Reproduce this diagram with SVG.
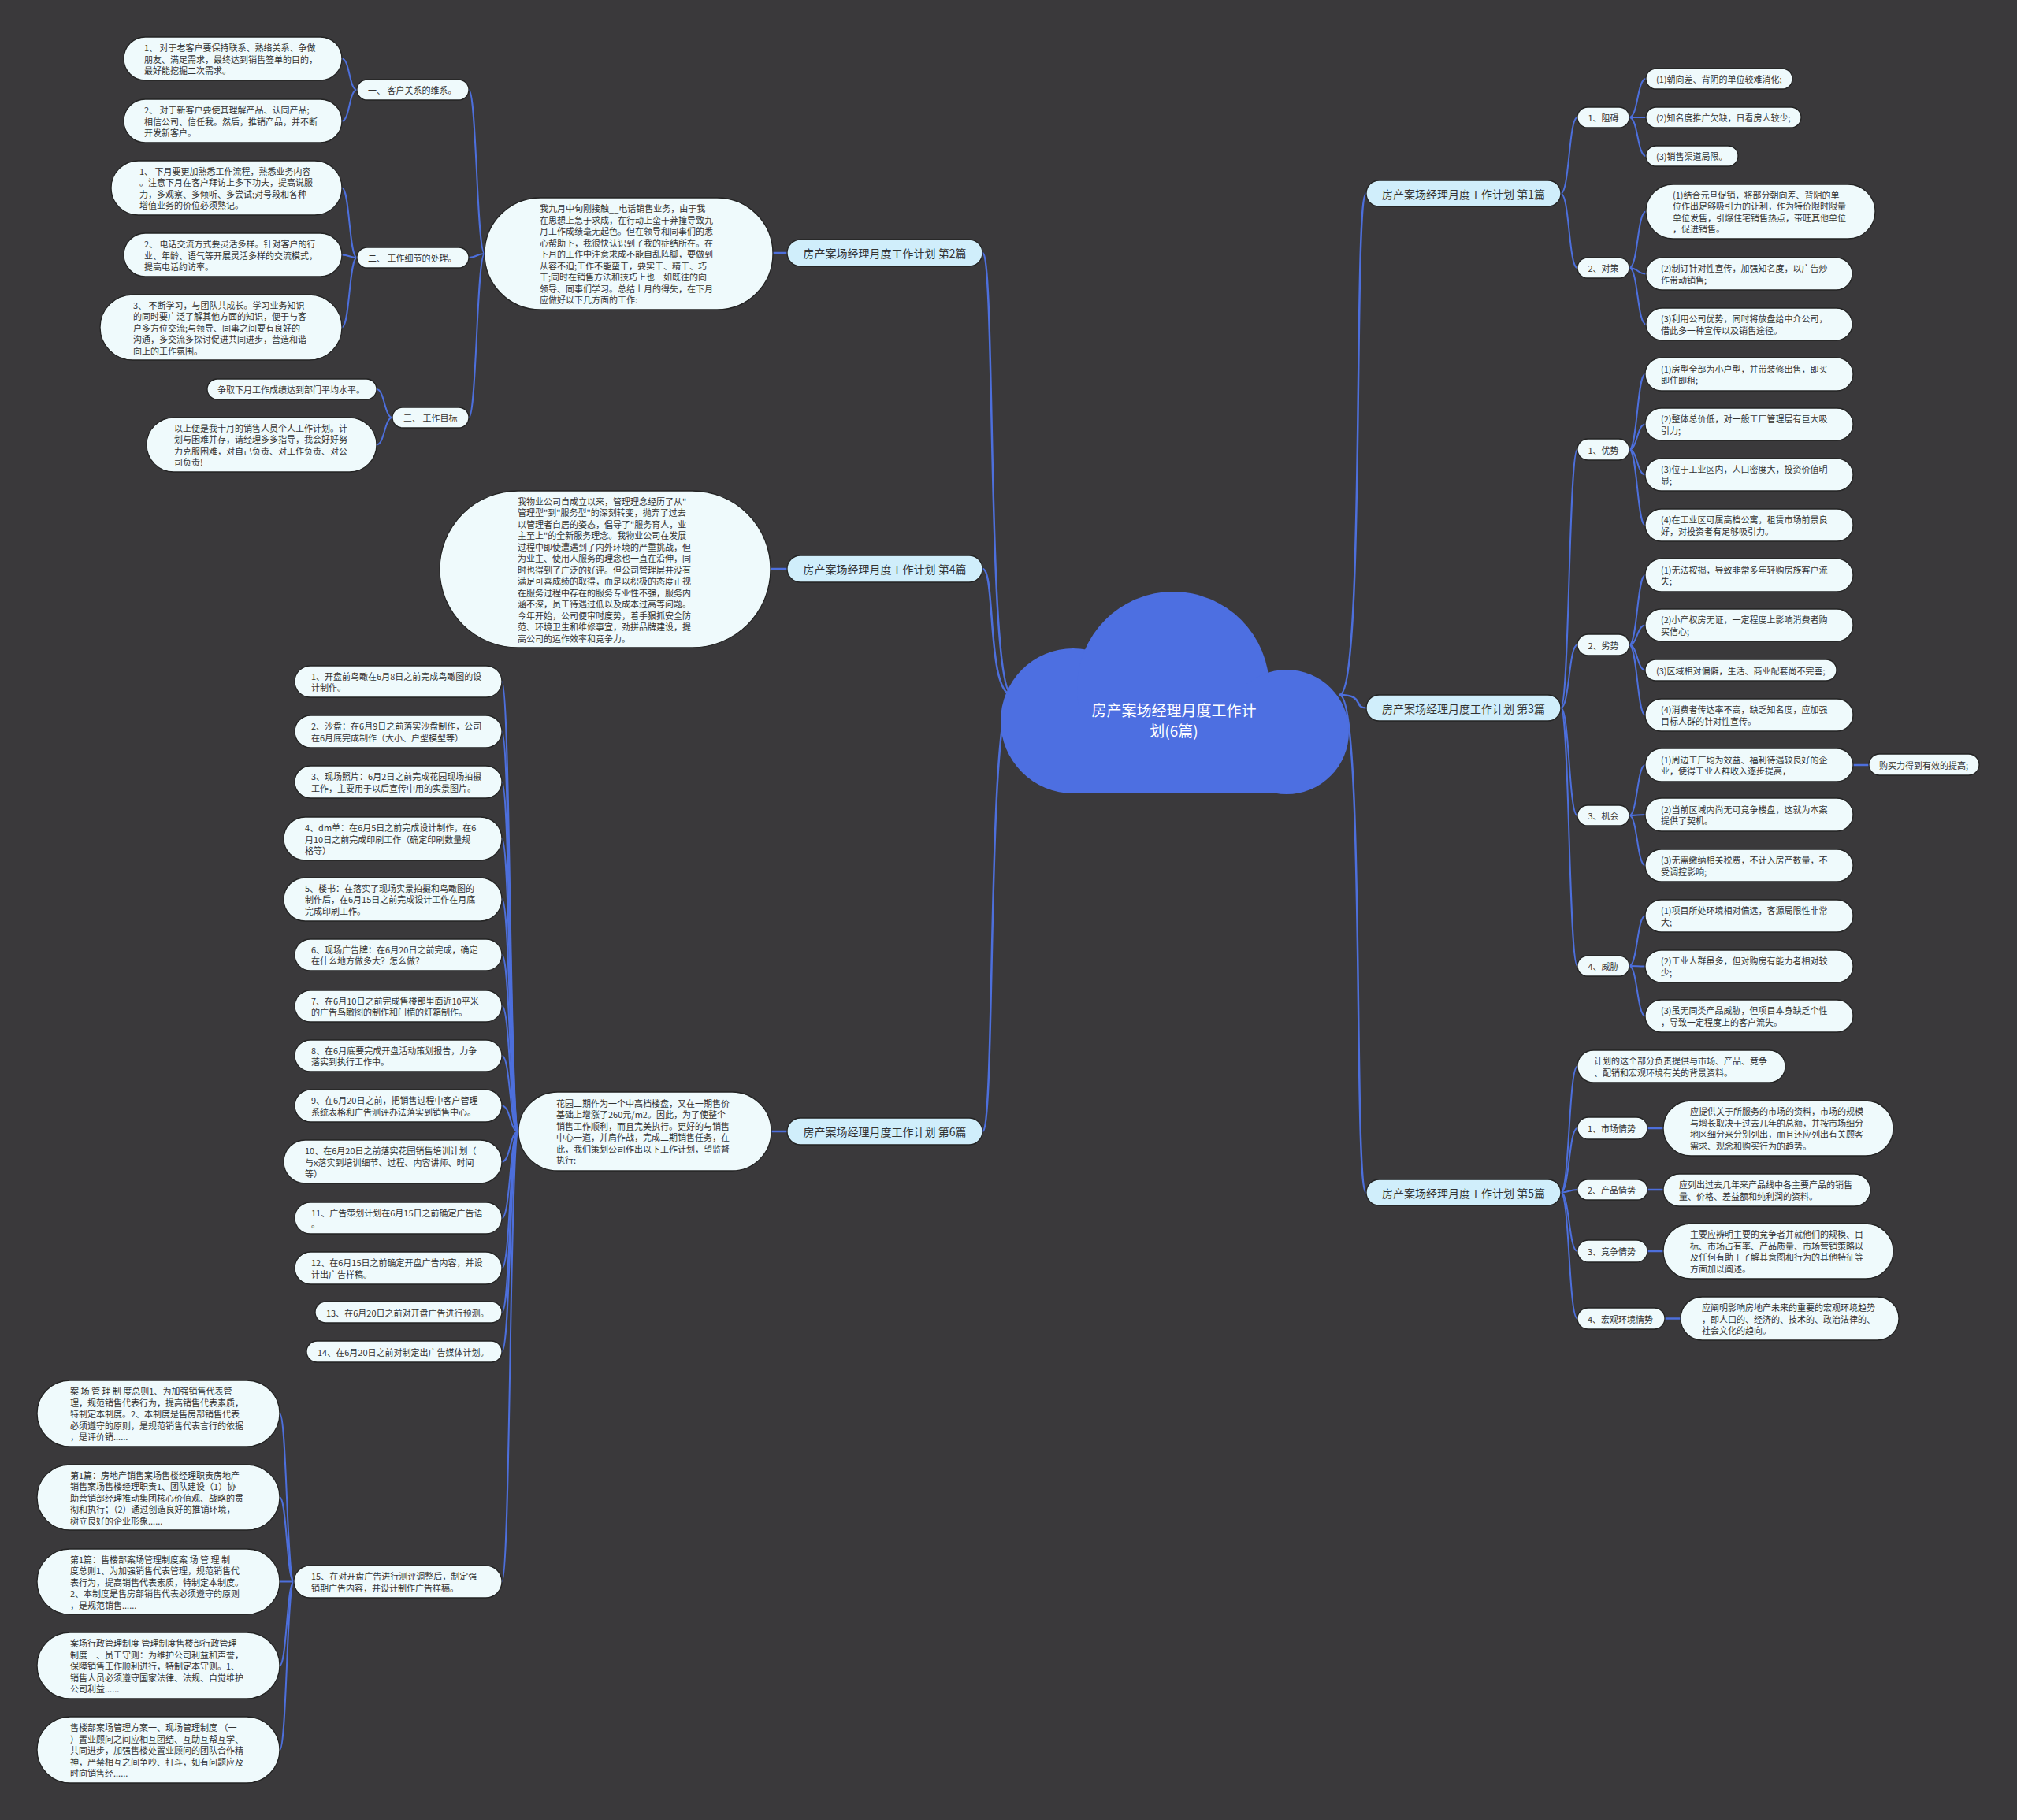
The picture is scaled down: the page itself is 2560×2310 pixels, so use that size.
<svg xmlns="http://www.w3.org/2000/svg" width="2560" height="2310" viewBox="0 0 2560 2310">
<style>
text{font-family:"Noto Sans CJK SC","Noto Sans",sans-serif;font-size:11px;fill:#333;dominant-baseline:central}
.bt{font-size:14px;text-anchor:middle}
.ct{font-size:19px;fill:#fff;text-anchor:middle}
.mid{text-anchor:middle}
.lf{fill:#effafc;stroke:#232323;stroke-width:1.3}
.br{fill:#d0eefb;stroke:#232323;stroke-width:1.3}
.ln{fill:none;stroke:#4d6fdc;stroke-width:2}
.lm{fill:none;stroke:#4d6fdc;stroke-width:2.5}
</style>
<rect x="0" y="0" width="2560" height="2310" fill="#3a393b"/>
<g id="connectors">
<path class="lm" d="M1285,882 C1252,882 1264,321 1247,321"/>
<path class="lm" d="M1285,882 C1252,882 1264,722 1247,722"/>
<path class="lm" d="M1285,882 C1252,882 1264,1436 1247,1436"/>
<path class="lm" d="M1700,882 C1733,882 1717,245.5 1734,245.5"/>
<path class="lm" d="M1700,882 C1733,882 1717,898.5 1734,898.5"/>
<path class="lm" d="M1700,882 C1733,882 1717,1513.5 1734,1513.5"/>
<path class="lm" d="M999,321 L981,321"/>
<path class="lm" d="M999,722 L978,722"/>
<path class="lm" d="M999,1436 L979,1436"/>
<path class="ln" d="M615,322 C605,322 605,114 595,114"/>
<path class="ln" d="M615,322 C605,322 605,327 595,327"/>
<path class="ln" d="M615,322 C605,322 605,530 595,530"/>
<path class="ln" d="M453,114 C443,114 444,74.5 434,74.5"/>
<path class="ln" d="M453,114 C443,114 444,153.5 434,153.5"/>
<path class="ln" d="M453,327 C443,327 444,238.5 434,238.5"/>
<path class="ln" d="M453,327 C443,327 444,323.5 434,323.5"/>
<path class="ln" d="M453,327 C443,327 444,415.5 434,415.5"/>
<path class="ln" d="M498,530 C488,530 488,494 478,494"/>
<path class="ln" d="M498,530 C488,530 488,564.5 478,564.5"/>
<path class="ln" d="M658,1436 C647,1436 648,865 637,865"/>
<path class="ln" d="M658,1436 C647,1436 648,928.5 637,928.5"/>
<path class="ln" d="M658,1436 C647,1436 648,992.5 637,992.5"/>
<path class="ln" d="M658,1436 C647,1436 648,1064.5 637,1064.5"/>
<path class="ln" d="M658,1436 C647,1436 648,1141 637,1141"/>
<path class="ln" d="M658,1436 C647,1436 648,1212 637,1212"/>
<path class="ln" d="M658,1436 C647,1436 648,1277 637,1277"/>
<path class="ln" d="M658,1436 C647,1436 648,1340 637,1340"/>
<path class="ln" d="M658,1436 C647,1436 648,1403.5 637,1403.5"/>
<path class="ln" d="M658,1436 C647,1436 648,1474.5 637,1474.5"/>
<path class="ln" d="M658,1436 C647,1436 648,1546 637,1546"/>
<path class="ln" d="M658,1436 C647,1436 648,1609.5 637,1609.5"/>
<path class="ln" d="M658,1436 C647,1436 648,1665.5 637,1665.5"/>
<path class="ln" d="M658,1436 C647,1436 648,1715.5 637,1715.5"/>
<path class="ln" d="M658,1436 C647,1436 648,2007.5 637,2007.5"/>
<path class="ln" d="M373,2007.5 C364,2007.5 364,1794 355,1794"/>
<path class="ln" d="M373,2007.5 C364,2007.5 364,1900.5 355,1900.5"/>
<path class="ln" d="M373,2007.5 C364,2007.5 364,2007.5 355,2007.5"/>
<path class="ln" d="M373,2007.5 C364,2007.5 364,2114 355,2114"/>
<path class="ln" d="M373,2007.5 C364,2007.5 364,2221 355,2221"/>
<path class="ln" d="M1981,245.5 C1992,245.5 1991,149 2002,149"/>
<path class="ln" d="M1981,245.5 C1992,245.5 1991,340 2002,340"/>
<path class="ln" d="M2068,149 C2079,149 2078,100 2089,100"/>
<path class="ln" d="M2068,149 C2079,149 2078,149 2089,149"/>
<path class="ln" d="M2068,149 C2079,149 2078,198 2089,198"/>
<path class="ln" d="M2068,340 C2079,340 2078,268.5 2089,268.5"/>
<path class="ln" d="M2068,340 C2079,340 2078,347.5 2089,347.5"/>
<path class="ln" d="M2068,340 C2079,340 2078,411.5 2089,411.5"/>
<path class="ln" d="M1981,898.5 C1992,898.5 1991,570.5 2002,570.5"/>
<path class="ln" d="M1981,898.5 C1992,898.5 1991,818.5 2002,818.5"/>
<path class="ln" d="M1981,898.5 C1992,898.5 1991,1035 2002,1035"/>
<path class="ln" d="M1981,898.5 C1992,898.5 1991,1226 2002,1226"/>
<path class="ln" d="M2068,570.5 C2078,570.5 2078,475 2088,475"/>
<path class="ln" d="M2068,570.5 C2078,570.5 2078,538.5 2088,538.5"/>
<path class="ln" d="M2068,570.5 C2078,570.5 2078,602.5 2088,602.5"/>
<path class="ln" d="M2068,570.5 C2078,570.5 2078,666.5 2088,666.5"/>
<path class="ln" d="M2068,818.5 C2078,818.5 2078,730 2088,730"/>
<path class="ln" d="M2068,818.5 C2078,818.5 2078,793.5 2088,793.5"/>
<path class="ln" d="M2068,818.5 C2078,818.5 2078,850.5 2088,850.5"/>
<path class="ln" d="M2068,818.5 C2078,818.5 2078,907.5 2088,907.5"/>
<path class="ln" d="M2068,1035 C2078,1035 2078,971 2088,971"/>
<path class="ln" d="M2068,1035 C2078,1035 2078,1034 2088,1034"/>
<path class="ln" d="M2068,1035 C2078,1035 2078,1098.5 2088,1098.5"/>
<path class="lm" d="M2352,971 L2372,971"/>
<path class="ln" d="M2068,1226 C2078,1226 2078,1162.5 2088,1162.5"/>
<path class="ln" d="M2068,1226 C2078,1226 2078,1226.5 2088,1226.5"/>
<path class="ln" d="M2068,1226 C2078,1226 2078,1289.5 2088,1289.5"/>
<path class="ln" d="M1981,1513.5 C1992,1513.5 1991,1353.5 2002,1353.5"/>
<path class="ln" d="M1981,1513.5 C1992,1513.5 1991,1432 2002,1432"/>
<path class="ln" d="M1981,1513.5 C1992,1513.5 1991,1510 2002,1510"/>
<path class="ln" d="M1981,1513.5 C1992,1513.5 1991,1588 2002,1588"/>
<path class="ln" d="M1981,1513.5 C1992,1513.5 1991,1673.5 2002,1673.5"/>
<path class="lm" d="M2091,1432 L2111,1432"/>
<path class="lm" d="M2091,1510 L2111,1510"/>
<path class="lm" d="M2091,1588 L2111,1588"/>
<path class="lm" d="M2113,1673.5 L2133,1673.5"/>
</g>

<g id="center">
<circle cx="1362" cy="915" r="92" fill="#4d6fe1"/>
<circle cx="1489" cy="873" r="122" fill="#4d6fe1"/>
<circle cx="1633" cy="929" r="79" fill="#4d6fe1"/>
<rect x="1362" y="900" width="271" height="107" fill="#4d6fe1"/>
<text class="ct"><tspan x="1490" y="900">房产案场经理月度工作计</tspan><tspan x="1490" y="926">划(6篇)</tspan></text>
</g>

<g id="b2"><rect class="br" x="999" y="304" width="248" height="34" rx="17"/><text class="bt" x="1123" y="321">房产案场经理月度工作计划 第2篇</text></g>
<g id="b4"><rect class="br" x="999" y="705" width="248" height="34" rx="17"/><text class="bt" x="1123" y="722">房产案场经理月度工作计划 第4篇</text></g>
<g id="b6"><rect class="br" x="999" y="1419" width="248" height="34" rx="17"/><text class="bt" x="1123" y="1436">房产案场经理月度工作计划 第6篇</text></g>
<g id="b1"><rect class="br" x="1734" y="229" width="247" height="33" rx="16.5"/><text class="bt" x="1857.5" y="245.5">房产案场经理月度工作计划 第1篇</text></g>
<g id="b3"><rect class="br" x="1734" y="882" width="247" height="33" rx="16.5"/><text class="bt" x="1857.5" y="898.5">房产案场经理月度工作计划 第3篇</text></g>
<g id="b5"><rect class="br" x="1734" y="1497" width="247" height="33" rx="16.5"/><text class="bt" x="1857.5" y="1513.5">房产案场经理月度工作计划 第5篇</text></g>

<g id="p2"><rect class="lf" x="615" y="251" width="366" height="142" rx="71"/><text>
<tspan x="685" y="264">我九月中旬刚接触__电话销售业务，由于我</tspan>
<tspan x="685" y="278.5">在思想上急于求成，在行动上蛮干莽撞导致九</tspan>
<tspan x="685" y="293">月工作成绩毫无起色。但在领导和同事们的悉</tspan>
<tspan x="685" y="307.5">心帮助下，我很快认识到了我的症结所在。在</tspan>
<tspan x="685" y="322">下月的工作中注意求成不能自乱阵脚，要做到</tspan>
<tspan x="685" y="336.5">从容不迫;工作不能蛮干，要实干、精干、巧</tspan>
<tspan x="685" y="351">干;同时在销售方法和技巧上也一如既往的向</tspan>
<tspan x="685" y="365.5">领导、同事们学习。总结上月的得失，在下月</tspan>
<tspan x="685" y="380">应做好以下几方面的工作:</tspan></text></g>

<g id="s1"><rect class="lf" x="453" y="101" width="142" height="26" rx="13"/><text x="467" y="114">一、 客户关系的维系。</text></g>
<g id="s2"><rect class="lf" x="453" y="314" width="142" height="26" rx="13"/><text x="467" y="327">二、 工作细节的处理。</text></g>
<g id="s3"><rect class="lf" x="498" y="517" width="97" height="26" rx="13"/><text x="512" y="530">三、 工作目标</text></g>

<g id="n1"><rect class="lf" x="157" y="47" width="277" height="55" rx="27.5"/><text>
<tspan x="183" y="60">1、 对于老客户要保持联系、熟络关系、争做</tspan>
<tspan x="183" y="74.5">朋友、满足需求，最终达到销售签单的目的，</tspan>
<tspan x="183" y="89">最好能挖掘二次需求。</tspan></text></g>
<g id="n2"><rect class="lf" x="157" y="126" width="277" height="55" rx="27.5"/><text>
<tspan x="183" y="139">2、 对于新客户要使其理解产品、认同产品;</tspan>
<tspan x="183" y="153.5">相信公司、信任我。然后，推销产品，并不断</tspan>
<tspan x="183" y="168">开发新客户。</tspan></text></g>
<g id="n3"><rect class="lf" x="141" y="204" width="293" height="69" rx="34.5"/><text>
<tspan x="177" y="216.75">1、 下月要更加熟悉工作流程，熟悉业务内容</tspan>
<tspan x="177" y="231.25">。注意下月在客户拜访上多下功夫，提高说服</tspan>
<tspan x="177" y="245.75">力，多观察、多倾听、多尝试;对号段和各种</tspan>
<tspan x="177" y="260.25">增值业务的价位必须熟记。</tspan></text></g>
<g id="n4"><rect class="lf" x="157" y="296" width="277" height="55" rx="27.5"/><text>
<tspan x="183" y="309">2、 电话交流方式要灵活多样。针对客户的行</tspan>
<tspan x="183" y="323.5">业、年龄、语气等开展灵活多样的交流模式，</tspan>
<tspan x="183" y="338">提高电话约访率。</tspan></text></g>
<g id="n5"><rect class="lf" x="127" y="374" width="307" height="83" rx="41.5"/><text>
<tspan x="169" y="386.5">3、 不断学习，与团队共成长。学习业务知识</tspan>
<tspan x="169" y="401">的同时要广泛了解其他方面的知识，便于与客</tspan>
<tspan x="169" y="415.5">户多方位交流;与领导、同事之间要有良好的</tspan>
<tspan x="169" y="430">沟通，多交流多探讨促进共同进步，营造和谐</tspan>
<tspan x="169" y="444.5">向上的工作氛围。</tspan></text></g>
<g id="n6"><rect class="lf" x="263" y="481" width="215" height="26" rx="13"/><text x="276" y="494">争取下月工作成绩达到部门平均水平。</text></g>
<g id="n7"><rect class="lf" x="186" y="530" width="292" height="69" rx="34.5"/><text>
<tspan x="221" y="542.75">以上便是我十月的销售人员个人工作计划。计</tspan>
<tspan x="221" y="557.25">划与困难并存，请经理多多指导，我会好好努</tspan>
<tspan x="221" y="571.75">力克服困难，对自己负责、对工作负责、对公</tspan>
<tspan x="221" y="586.25">司负责!</tspan></text></g>

<g id="p4"><rect class="lf" x="558" y="623" width="420" height="199" rx="99.5"/><text>
<tspan x="657" y="635.5">我物业公司自成立以来，管理理念经历了从"</tspan>
<tspan x="657" y="650">管理型"到"服务型"的深刻转变，抛弃了过去</tspan>
<tspan x="657" y="664.5">以管理者自居的姿态，倡导了"服务育人，业</tspan>
<tspan x="657" y="679">主至上"的全新服务理念。我物业公司在发展</tspan>
<tspan x="657" y="693.5">过程中即使遭遇到了内外环境的严重挑战，但</tspan>
<tspan x="657" y="708">为业主、使用人服务的理念也一直在沿伸，同</tspan>
<tspan x="657" y="722.5">时也得到了广泛的好评。但公司管理层并没有</tspan>
<tspan x="657" y="737">满足可喜成绩的取得，而是以积极的态度正视</tspan>
<tspan x="657" y="751.5">在服务过程中存在的服务专业性不强，服务内</tspan>
<tspan x="657" y="766">涵不深，员工待遇过低以及成本过高等问题。</tspan>
<tspan x="657" y="780.5">今年开始，公司便审时度势，着手狠抓安全防</tspan>
<tspan x="657" y="795">范、环境卫生和维修事宜，劲拼品牌建设，提</tspan>
<tspan x="657" y="809.5">高公司的运作效率和竞争力。</tspan></text></g>

<g id="p6"><rect class="lf" x="658" y="1386" width="321" height="100" rx="50"/><text>
<tspan x="706" y="1399.75">花园二期作为一个中高档楼盘，又在一期售价</tspan>
<tspan x="706" y="1414.25">基础上增涨了260元/m2。因此，为了使整个</tspan>
<tspan x="706" y="1428.75">销售工作顺利，而且完美执行。更好的与销售</tspan>
<tspan x="706" y="1443.25">中心一道，并肩作战，完成二期销售任务，在</tspan>
<tspan x="706" y="1457.75">此，我们策划公司作出以下工作计划，望监督</tspan>
<tspan x="706" y="1472.25">执行:</tspan></text></g>

<g id="i1"><rect class="lf" x="374" y="845" width="263" height="40" rx="20"/><text><tspan x="395" y="857.75">1、开盘前鸟瞰在6月8日之前完成鸟瞰图的设</tspan><tspan x="395" y="872.25">计制作。</tspan></text></g>
<g id="i2"><rect class="lf" x="374" y="908" width="263" height="41" rx="20.5"/><text><tspan x="395" y="921.25">2、沙盘：在6月9日之前落实沙盘制作，公司</tspan><tspan x="395" y="935.75">在6月底完成制作（大小、户型模型等）</tspan></text></g>
<g id="i3"><rect class="lf" x="374" y="972" width="263" height="41" rx="20.5"/><text><tspan x="395" y="985.25">3、现场照片：6月2日之前完成花园现场拍摄</tspan><tspan x="395" y="999.75">工作，主要用于以后宣传中用的实景图片。</tspan></text></g>
<g id="i4"><rect class="lf" x="360" y="1037" width="277" height="55" rx="27.5"/><text><tspan x="387" y="1050">4、dm单：在6月5日之前完成设计制作，在6</tspan><tspan x="387" y="1064.5">月10日之前完成印刷工作（确定印刷数量规</tspan><tspan x="387" y="1079">格等）</tspan></text></g>
<g id="i5"><rect class="lf" x="360" y="1114" width="277" height="55" rx="27.5"/><text><tspan x="387" y="1126.5">5、楼书：在落实了现场实景拍摄和鸟瞰图的</tspan><tspan x="387" y="1141">制作后，在6月15日之前完成设计工作在月底</tspan><tspan x="387" y="1155.5">完成印刷工作。</tspan></text></g>
<g id="i6"><rect class="lf" x="374" y="1192" width="263" height="40" rx="20"/><text><tspan x="395" y="1204.75">6、现场广告牌：在6月20日之前完成，确定</tspan><tspan x="395" y="1219.25">在什么地方做多大？怎么做？</tspan></text></g>
<g id="i7"><rect class="lf" x="374" y="1257" width="263" height="40" rx="20"/><text><tspan x="395" y="1269.75">7、在6月10日之前完成售楼部里面近10平米</tspan><tspan x="395" y="1284.25">的广告鸟瞰图的制作和门楣的灯箱制作。</tspan></text></g>
<g id="i8"><rect class="lf" x="374" y="1320" width="263" height="40" rx="20"/><text><tspan x="395" y="1332.75">8、在6月底要完成开盘活动策划报告，力争</tspan><tspan x="395" y="1347.25">落实到执行工作中。</tspan></text></g>
<g id="i9"><rect class="lf" x="374" y="1383" width="263" height="41" rx="20.5"/><text><tspan x="395" y="1396.25">9、在6月20日之前，把销售过程中客户管理</tspan><tspan x="395" y="1410.75">系统表格和广告测评办法落实到销售中心。</tspan></text></g>
<g id="i10"><rect class="lf" x="360" y="1447" width="277" height="55" rx="27.5"/><text><tspan x="387" y="1460">10、在6月20日之前落实花园销售培训计划（</tspan><tspan x="387" y="1474.5">与x落实到培训细节、过程、内容讲师、时间</tspan><tspan x="387" y="1489">等）</tspan></text></g>
<g id="i11"><rect class="lf" x="374" y="1526" width="263" height="40" rx="20"/><text><tspan x="395" y="1538.75">11、广告策划计划在6月15日之前确定广告语</tspan><tspan x="395" y="1553.25">。</tspan></text></g>
<g id="i12"><rect class="lf" x="374" y="1589" width="263" height="41" rx="20.5"/><text><tspan x="395" y="1602.25">12、在6月15日之前确定开盘广告内容，并设</tspan><tspan x="395" y="1616.75">计出广告样稿。</tspan></text></g>
<g id="i13"><rect class="lf" x="400" y="1652" width="237" height="27" rx="13.5"/><text x="414" y="1665.5">13、在6月20日之前对开盘广告进行预测。</text></g>
<g id="i14"><rect class="lf" x="389" y="1702" width="248" height="27" rx="13.5"/><text x="403" y="1715.5">14、在6月20日之前对制定出广告媒体计划。</text></g>
<g id="i15"><rect class="lf" x="373" y="1987" width="264" height="41" rx="20.5"/><text><tspan x="395" y="2000.25">15、在对开盘广告进行测评调整后，制定强</tspan><tspan x="395" y="2014.75">销期广告内容，并设计制作广告样稿。</tspan></text></g>

<g id="q1"><rect class="lf" x="47" y="1752" width="308" height="84" rx="42"/><text>
<tspan x="89" y="1765">案 场 管 理 制 度总则1、为加强销售代表管</tspan>
<tspan x="89" y="1779.5">理，规范销售代表行为，提高销售代表素质，</tspan>
<tspan x="89" y="1794">特制定本制度。2、本制度是售房部销售代表</tspan>
<tspan x="89" y="1808.5">必须遵守的原则，是规范销售代表言行的依据</tspan>
<tspan x="89" y="1823">，是评价销......</tspan></text></g>
<g id="q2"><rect class="lf" x="47" y="1859" width="308" height="83" rx="41.5"/><text>
<tspan x="89" y="1871.5">第1篇：房地产销售案场售楼经理职责房地产</tspan>
<tspan x="89" y="1886">销售案场售楼经理职责1、团队建设（1）协</tspan>
<tspan x="89" y="1900.5">助营销部经理推动集团核心价值观、战略的贯</tspan>
<tspan x="89" y="1915">彻和执行；（2）通过创造良好的推销环境，</tspan>
<tspan x="89" y="1929.5">树立良好的企业形象......</tspan></text></g>
<g id="q3"><rect class="lf" x="47" y="1966" width="308" height="83" rx="41.5"/><text>
<tspan x="89" y="1978.5">第1篇：售楼部案场管理制度案 场 管 理 制</tspan>
<tspan x="89" y="1993">度总则1、为加强销售代表管理，规范销售代</tspan>
<tspan x="89" y="2007.5">表行为，提高销售代表素质，特制定本制度。</tspan>
<tspan x="89" y="2022">2、本制度是售房部销售代表必须遵守的原则</tspan>
<tspan x="89" y="2036.5">，是规范销售......</tspan></text></g>
<g id="q4"><rect class="lf" x="47" y="2072" width="308" height="84" rx="42"/><text>
<tspan x="89" y="2085">案场行政管理制度 管理制度售楼部行政管理</tspan>
<tspan x="89" y="2099.5">制度一、员工守则：为维护公司利益和声誉，</tspan>
<tspan x="89" y="2114">保障销售工作顺利进行，特制定本守则。1、</tspan>
<tspan x="89" y="2128.5">销售人员必须遵守国家法律、法规、自觉维护</tspan>
<tspan x="89" y="2143">公司利益......</tspan></text></g>
<g id="q5"><rect class="lf" x="47" y="2179" width="308" height="84" rx="42"/><text>
<tspan x="89" y="2192">售楼部案场管理方案一、现场管理制度 （一</tspan>
<tspan x="89" y="2206.5">）置业顾问之间应相互团结、互助互帮互学、</tspan>
<tspan x="89" y="2221">共同进步，加强售楼处置业顾问的团队合作精</tspan>
<tspan x="89" y="2235.5">神，严禁相互之间争吵、打斗，如有问题应及</tspan>
<tspan x="89" y="2250">时向销售经......</tspan></text></g>

<g id="r1"><rect class="lf" x="2002" y="136" width="66" height="26" rx="13"/><text class="mid" x="2035" y="149">1、阻碍</text></g>
<g id="r2"><rect class="lf" x="2002" y="327" width="66" height="26" rx="13"/><text class="mid" x="2035" y="340">2、对策</text></g>
<g id="r1a"><rect class="lf" x="2089" y="87" width="186" height="26" rx="13"/><text x="2102" y="100">(1)朝向差、背阴的单位较难消化;</text></g>
<g id="r1b"><rect class="lf" x="2089" y="136" width="197" height="26" rx="13"/><text x="2102" y="149">(2)知名度推广欠缺，日看房人较少;</text></g>
<g id="r1c"><rect class="lf" x="2089" y="185" width="117" height="26" rx="13"/><text x="2102" y="198">(3)销售渠道局限。</text></g>
<g id="r2a"><rect class="lf" x="2089" y="234" width="291" height="69" rx="34.5"/><text>
<tspan x="2123" y="246.75">(1)结合元旦促销，将部分朝向差、背阴的单</tspan>
<tspan x="2123" y="261.25">位作出足够吸引力的让利，作为特价限时限量</tspan>
<tspan x="2123" y="275.75">单位发售，引爆住宅销售热点，带旺其他单位</tspan>
<tspan x="2123" y="290.25">，促进销售。</tspan></text></g>
<g id="r2b"><rect class="lf" x="2089" y="327" width="262" height="41" rx="20.5"/><text><tspan x="2108" y="340.25">(2)制订针对性宣传，加强知名度，以广告炒</tspan><tspan x="2108" y="354.75">作带动销售;</tspan></text></g>
<g id="r2c"><rect class="lf" x="2089" y="391" width="262" height="41" rx="20.5"/><text><tspan x="2108" y="404.25">(3)利用公司优势，同时将放盘给中介公司，</tspan><tspan x="2108" y="418.75">借此多一种宣传以及销售途径。</tspan></text></g>

<g id="u1"><rect class="lf" x="2002" y="557" width="66" height="27" rx="13.5"/><text class="mid" x="2035" y="570.5">1、优势</text></g>
<g id="u2"><rect class="lf" x="2002" y="805" width="66" height="27" rx="13.5"/><text class="mid" x="2035" y="818.5">2、劣势</text></g>
<g id="u3"><rect class="lf" x="2002" y="1022" width="66" height="26" rx="13"/><text class="mid" x="2035" y="1035">3、机会</text></g>
<g id="u4"><rect class="lf" x="2002" y="1213" width="66" height="26" rx="13"/><text class="mid" x="2035" y="1226">4、威胁</text></g>
<g id="u1a"><rect class="lf" x="2088" y="454" width="264" height="42" rx="21"/><text><tspan x="2108" y="467.75">(1)房型全部为小户型，并带装修出售，即买</tspan><tspan x="2108" y="482.25">即住即租;</tspan></text></g>
<g id="u1b"><rect class="lf" x="2088" y="518" width="264" height="41" rx="20.5"/><text><tspan x="2108" y="531.25">(2)整体总价低，对一般工厂管理层有巨大吸</tspan><tspan x="2108" y="545.75">引力;</tspan></text></g>
<g id="u1c"><rect class="lf" x="2088" y="582" width="264" height="41" rx="20.5"/><text><tspan x="2108" y="595.25">(3)位于工业区内，人口密度大，投资价值明</tspan><tspan x="2108" y="609.75">显;</tspan></text></g>
<g id="u1d"><rect class="lf" x="2088" y="646" width="264" height="41" rx="20.5"/><text><tspan x="2108" y="659.25">(4)在工业区可属高档公寓，租赁市场前景良</tspan><tspan x="2108" y="673.75">好，对投资者有足够吸引力。</tspan></text></g>
<g id="u2a"><rect class="lf" x="2088" y="709" width="264" height="42" rx="21"/><text><tspan x="2108" y="722.75">(1)无法按揭，导致非常多年轻购房族客户流</tspan><tspan x="2108" y="737.25">失;</tspan></text></g>
<g id="u2b"><rect class="lf" x="2088" y="773" width="264" height="41" rx="20.5"/><text><tspan x="2108" y="786.25">(2)小产权房无证，一定程度上影响消费者购</tspan><tspan x="2108" y="800.75">买信心;</tspan></text></g>
<g id="u2c"><rect class="lf" x="2088" y="837" width="243" height="27" rx="13.5"/><text x="2102" y="850.5">(3)区域相对偏僻，生活、商业配套尚不完善;</text></g>
<g id="u2d"><rect class="lf" x="2088" y="887" width="264" height="41" rx="20.5"/><text><tspan x="2108" y="900.25">(4)消费者传达率不高，缺乏知名度，应加强</tspan><tspan x="2108" y="914.75">目标人群的针对性宣传。</tspan></text></g>
<g id="u3a"><rect class="lf" x="2088" y="950" width="264" height="42" rx="21"/><text><tspan x="2108" y="963.75">(1)周边工厂均为效益、福利待遇较良好的企</tspan><tspan x="2108" y="978.25">业，使得工业人群收入逐步提高，</tspan></text></g>
<g id="u3a1"><rect class="lf" x="2372" y="957" width="140" height="27" rx="13.5"/><text x="2385" y="970.5">购买力得到有效的提高;</text></g>
<g id="u3b"><rect class="lf" x="2088" y="1013" width="264" height="42" rx="21"/><text><tspan x="2108" y="1026.75">(2)当前区域内尚无可竞争楼盘，这就为本案</tspan><tspan x="2108" y="1041.25">提供了契机。</tspan></text></g>
<g id="u3c"><rect class="lf" x="2088" y="1078" width="264" height="41" rx="20.5"/><text><tspan x="2108" y="1091.25">(3)无需缴纳相关税费，不计入房产数量，不</tspan><tspan x="2108" y="1105.75">受调控影响;</tspan></text></g>
<g id="u4a"><rect class="lf" x="2088" y="1142" width="264" height="41" rx="20.5"/><text><tspan x="2108" y="1155.25">(1)项目所处环境相对偏远，客源局限性非常</tspan><tspan x="2108" y="1169.75">大;</tspan></text></g>
<g id="u4b"><rect class="lf" x="2088" y="1206" width="264" height="41" rx="20.5"/><text><tspan x="2108" y="1219.25">(2)工业人群虽多，但对购房有能力者相对较</tspan><tspan x="2108" y="1233.75">少;</tspan></text></g>
<g id="u4c"><rect class="lf" x="2088" y="1269" width="264" height="41" rx="20.5"/><text><tspan x="2108" y="1282.25">(3)虽无同类产品威胁，但项目本身缺乏个性</tspan><tspan x="2108" y="1296.75">，导致一定程度上的客户流失。</tspan></text></g>

<g id="v0"><rect class="lf" x="2002" y="1333" width="264" height="41" rx="20.5"/><text><tspan x="2023" y="1346.25">计划的这个部分负责提供与市场、产品、竞争</tspan><tspan x="2023" y="1360.75">、配销和宏观环境有关的背景资料。</tspan></text></g>
<g id="v1"><rect class="lf" x="2002" y="1418" width="89" height="28" rx="14"/><text x="2015" y="1432">1、市场情势</text></g>
<g id="v1a"><rect class="lf" x="2111" y="1397" width="292" height="70" rx="35"/><text>
<tspan x="2145" y="1410.25">应提供关于所服务的市场的资料，市场的规模</tspan>
<tspan x="2145" y="1424.75">与增长取决于过去几年的总额，并按市场细分</tspan>
<tspan x="2145" y="1439.25">地区细分来分别列出，而且还应列出有关顾客</tspan>
<tspan x="2145" y="1453.75">需求、观念和购买行为的趋势。</tspan></text></g>
<g id="v2"><rect class="lf" x="2002" y="1497" width="89" height="26" rx="13"/><text x="2015" y="1510">2、产品情势</text></g>
<g id="v2a"><rect class="lf" x="2111" y="1490" width="263" height="41" rx="20.5"/><text><tspan x="2131" y="1503.25">应列出过去几年来产品线中各主要产品的销售</tspan><tspan x="2131" y="1517.75">量、价格、差益额和纯利润的资料。</tspan></text></g>
<g id="v3"><rect class="lf" x="2002" y="1574" width="89" height="28" rx="14"/><text x="2015" y="1588">3、竞争情势</text></g>
<g id="v3a"><rect class="lf" x="2111" y="1553" width="292" height="70" rx="35"/><text>
<tspan x="2145" y="1566.25">主要应辨明主要的竞争者并就他们的规模、目</tspan>
<tspan x="2145" y="1580.75">标、市场占有率、产品质量、市场营销策略以</tspan>
<tspan x="2145" y="1595.25">及任何有助于了解其意图和行为的其他特征等</tspan>
<tspan x="2145" y="1609.75">方面加以阐述。</tspan></text></g>
<g id="v4"><rect class="lf" x="2002" y="1660" width="111" height="27" rx="13.5"/><text x="2015" y="1673.5">4、宏观环境情势</text></g>
<g id="v4a"><rect class="lf" x="2133" y="1646" width="277" height="55" rx="27.5"/><text>
<tspan x="2160" y="1659">应阐明影响房地产未来的重要的宏观环境趋势</tspan>
<tspan x="2160" y="1673.5">，即人口的、经济的、技术的、政治法律的、</tspan>
<tspan x="2160" y="1688">社会文化的趋向。</tspan></text></g>
</svg>
